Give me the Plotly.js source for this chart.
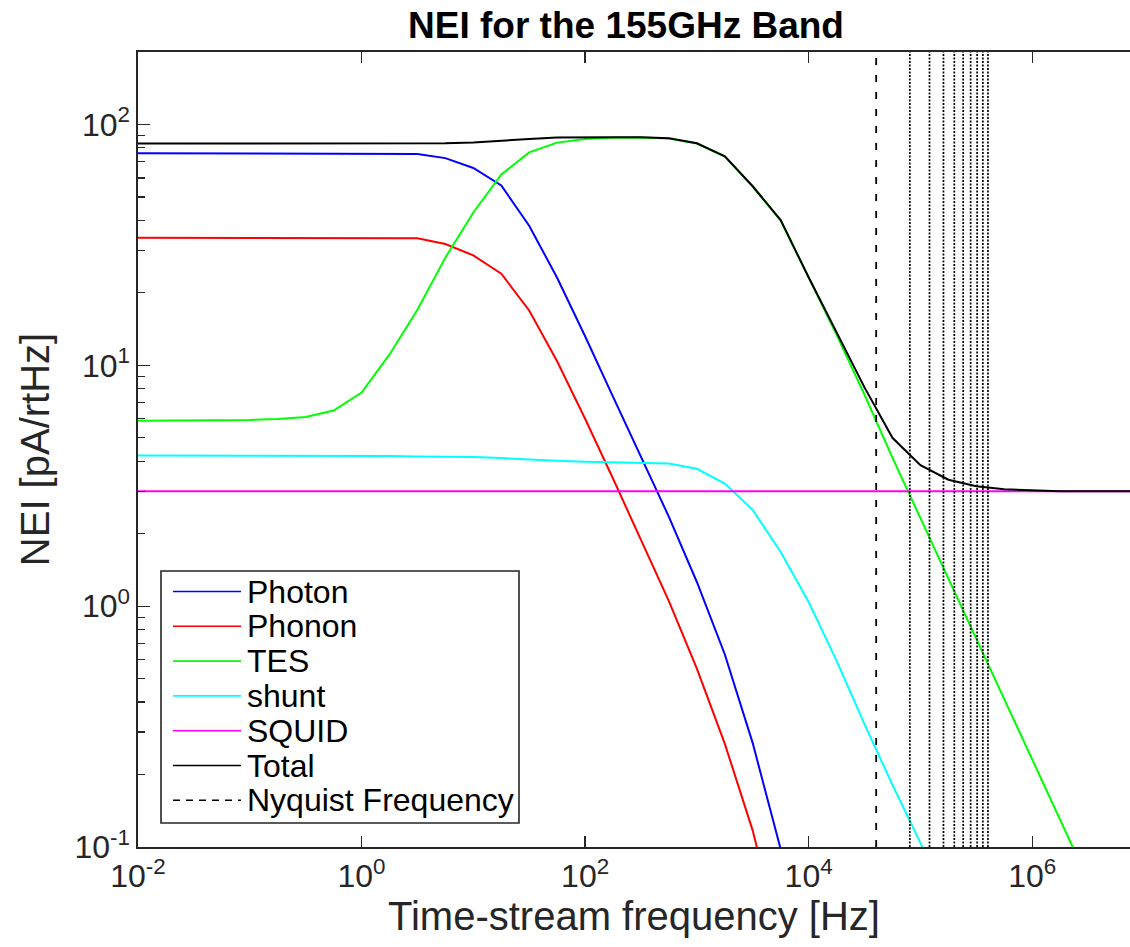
<!DOCTYPE html>
<html>
<head>
<meta charset="utf-8">
<script src="https://cdn.plot.ly/plotly-3.0.1.min.js"></script>
<style>html,body{margin:0;padding:0;background:#fff;}#chart{width:1130px;height:947px;}</style>
</head>
<body>
<div id="chart"></div>
<script>
// Frequency grid [Hz]
const freq = [0.01, 0.0316, 0.1, 0.178, 0.316, 0.562, 1, 1.78, 3.16, 5.62, 10, 17.8, 31.6, 56.2,
  100, 178, 316, 562, 1000, 1780, 3160, 5620, 1e4, 1.78e4, 3.16e4, 5.62e4, 1e5, 1.78e5, 3.16e5,
  5.62e5, 1e6, 1.78e6, 3.16e6, 5.62e6, 1e7];

// NEI values [pA/rtHz]
const photon = [76, 76, 76, 76, 76, 76, 76, 76, 75.5, 72.5, 66, 55.8, 38.0, 23.1, 13.2, 7.4, 4.2,
  2.35, 1.26, 0.63, 0.27, 0.098, 0.03, null, null, null, null, null, null, null, null, null, null, null, null];
const phonon = [33.9, 33.9, 33.9, 33.9, 33.9, 33.9, 33.9, 33.8, 33.7, 31.9, 28.6, 24.0, 16.9, 10.4,
  6.0, 3.38, 1.89, 1.05, 0.55, 0.268, 0.117, 0.04, null, null, null, null, null, null, null, null, null, null, null, null, null];
const tes = [5.89, 5.9, 5.93, 5.99, 6.10, 6.49, 7.71, 11.1, 17.0, 28.0, 43.1, 62.0, 76.6, 84.1,
  87.1, 88.0, 88.3, 87.5, 83.4, 73.6, 55.2, 39.9, 23.0, 13.4, 7.55, 4.14, 2.32, 1.30, 0.733,
  0.412, 0.232, 0.130, 0.073, 0.041, 0.023];
const shunt = [4.22, 4.22, 4.22, 4.22, 4.22, 4.22, 4.22, 4.2, 4.18, 4.17, 4.16, 4.12, 4.06, 4.02,
  3.98, 3.96, 3.94, 3.91, 3.72, 3.23, 2.51, 1.68, 1.04, 0.593, 0.324, 0.181, 0.104, 0.058, 0.032,
  null, null, null, null, null, null];
const squid = [3.0, 3.0, 3.0, 3.0, 3.0, 3.0, 3.0, 3.0, 3.0, 3.0, 3.0, 3.0, 3.0, 3.0, 3.0, 3.0, 3.0,
  3.0, 3.0, 3.0, 3.0, 3.0, 3.0, 3.0, 3.0, 3.0, 3.0, 3.0, 3.0, 3.0, 3.0, 3.0, 3.0, 3.0, 3.0];
const total = [83.4, 83.4, 83.4, 83.4, 83.4, 83.4, 83.4, 83.4, 83.4, 83.6, 84.2, 85.8, 87.1, 88.3,
  88.6, 88.6, 88.5, 87.7, 83.6, 73.8, 55.4, 40.1, 23.2, 13.7, 8.1, 5.0, 3.85, 3.35, 3.15, 3.06,
  3.02, 3.0, 3.0, 3.0, 3.0];

const nyquist = 40200;                       // Hz
const harmonics = [80400, 120600, 160800, 201000, 241200, 281400, 321600, 361800, 402000]; // Hz

const seriesNames = ['Photon', 'Phonon', 'TES', 'shunt', 'SQUID', 'Total'];
const seriesColors = ['#0000ff', '#ff0000', '#00ff00', '#00ffff', '#ff00ff', '#000000'];
const seriesData = [photon, phonon, tes, shunt, squid, total];

const yMin = 0.1, yMax = 200;
const xTickVals = [1e-2, 1, 1e2, 1e4, 1e6];
const xTickText = ['10<sup>-2</sup>', '10<sup>0</sup>', '10<sup>2</sup>', '10<sup>4</sup>', '10<sup>6</sup>'];
const yTickVals = [0.1, 1, 10, 100];
const yTickText = ['10<sup>-1</sup>', '10<sup>0</sup>', '10<sup>1</sup>', '10<sup>2</sup>'];

const FONT = 'Liberation Sans, Arial, Helvetica, sans-serif';
const AX = '#262626';

const traces = [];
seriesData.forEach((d, i) => {
  traces.push({x: freq, y: d, type: 'scatter', mode: 'lines', name: seriesNames[i],
    line: {color: seriesColors[i], width: 2}, showlegend: false, hoverinfo: 'skip'});
});
traces.push({x: [nyquist, nyquist], y: [yMin, yMax], type: 'scatter', mode: 'lines',
  name: 'Nyquist Frequency', line: {color: '#000', width: 1.8, dash: '7px,10px'}, showlegend: false});
const hx = [], hy = [];
harmonics.forEach(h => { hx.push(h, h, null); hy.push(yMin, yMax, null); });
traces.push({x: hx, y: hy, type: 'scatter', mode: 'lines', name: 'harmonics',
  line: {color: '#000', width: 1.7, dash: '2px,1.5px'}, showlegend: false});

// minor y ticks
const minorY = [];
[0.1, 1, 10, 100].forEach(dec => { for (let k = 2; k <= 9; k++) { const v = dec * k; if (v <= yMax) minorY.push(v); } });

// custom legend (matching the boxed legend of the original)
const plotL = 138, plotR = 1130, plotT = 52, plotB = 847;
const px = x => (x - plotL) / (plotR - plotL);
const py = y => (plotB - y) / (plotB - plotT);
const shapes = [{type: 'rect', xref: 'paper', yref: 'paper', x0: px(161), x1: px(519), y0: py(823), y1: py(571),
  line: {color: AX, width: 1.6}, fillcolor: '#fff', layer: 'above'}];
const annotations = [];
const legNames = seriesNames.concat(['Nyquist Frequency']);
const legColors = seriesColors.concat(['#000']);
legNames.forEach((n, i) => {
  const yy = 591.5 + 34.8 * i;
  shapes.push({type: 'line', xref: 'paper', yref: 'paper', x0: px(173), x1: px(241), y0: py(yy), y1: py(yy),
    line: {color: legColors[i], width: 1.6, dash: i === 6 ? '7px,6px' : 'solid'}, layer: 'above'});
  annotations.push({xref: 'paper', yref: 'paper', x: px(245), y: py(yy), xanchor: 'left', yanchor: 'middle',
    text: n, showarrow: false, font: {family: FONT, size: 32, color: '#000'}});
});

const layout = {
  width: 1130, height: 947,
  margin: {l: plotL, r: 1130 - plotR, t: plotT, b: 947 - plotB},
  paper_bgcolor: '#fff', plot_bgcolor: '#fff',
  showlegend: false,
  title: {text: '<b>NEI for the 155GHz Band</b>', font: {family: FONT, size: 37, color: '#000'},
    x: 626 / 1130, xref: 'container', xanchor: 'center', y: 1 - 25 / 947, yref: 'container', yanchor: 'middle'},
  xaxis: {type: 'log', range: [-2, Math.log10(7.5e6)], tickmode: 'array', tickvals: xTickVals, ticktext: xTickText,
    ticks: 'inside', ticklen: 11, tickwidth: 1.3, tickcolor: AX, showline: true, linecolor: AX, linewidth: 1.6,
    mirror: 'ticks', showgrid: false, zeroline: false, tickfont: {family: FONT, size: 32, color: AX},
    title: {text: 'Time-stream frequency [Hz]', font: {family: FONT, size: 40, color: AX}, standoff: 8}},
  yaxis: {type: 'log', range: [-1, Math.log10(yMax)], tickmode: 'array', tickvals: yTickVals, ticktext: yTickText,
    ticks: 'inside', ticklen: 12, tickwidth: 1.3, tickcolor: AX, showline: true, linecolor: AX, linewidth: 1.6,
    mirror: false, showgrid: false, zeroline: false, tickfont: {family: FONT, size: 32, color: AX},
    minor: {tickmode: 'array', tickvals: minorY, ticks: 'inside', ticklen: 7, tickwidth: 1.2, tickcolor: AX, showgrid: false},
    title: {text: 'NEI [pA/rtHz]', font: {family: FONT, size: 40, color: AX}, standoff: 12}},
  shapes: shapes, annotations: annotations
};

Plotly.newPlot('chart', traces, layout, {displayModeBar: false, staticPlot: true});
</script>
</body>
</html>
